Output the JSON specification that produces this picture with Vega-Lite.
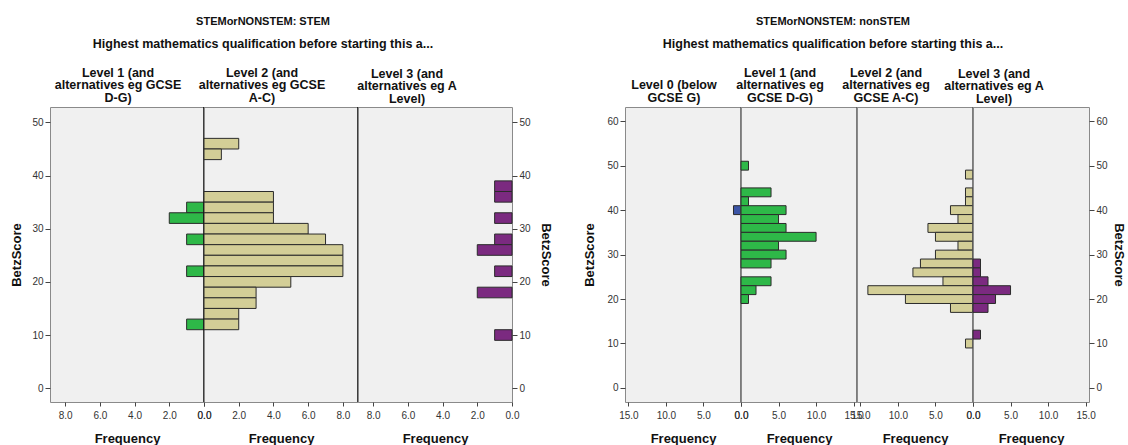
{
  "$schema": "https://vega.github.io/schema/vega-lite/v6.json",
  "background": "white",
  "padding": {"left": 10, "top": 15, "right": 0, "bottom": 0},
  "spacing": 31,
  "datasets": {
    "s1": [
      {"lo": 33, "hi": 35, "n": 1}, {"lo": 31, "hi": 33, "n": 2}, {"lo": 27, "hi": 29, "n": 1},
      {"lo": 21, "hi": 23, "n": 1}, {"lo": 11, "hi": 13, "n": 1}
    ],
    "s2": [
      {"lo": 45, "hi": 47, "n": 2}, {"lo": 43, "hi": 45, "n": 1}, {"lo": 35, "hi": 37, "n": 4},
      {"lo": 33, "hi": 35, "n": 4}, {"lo": 31, "hi": 33, "n": 4}, {"lo": 29, "hi": 31, "n": 6},
      {"lo": 27, "hi": 29, "n": 7}, {"lo": 25, "hi": 27, "n": 8}, {"lo": 23, "hi": 25, "n": 8},
      {"lo": 21, "hi": 23, "n": 8}, {"lo": 19, "hi": 21, "n": 5}, {"lo": 17, "hi": 19, "n": 3},
      {"lo": 15, "hi": 17, "n": 3}, {"lo": 13, "hi": 15, "n": 2}, {"lo": 11, "hi": 13, "n": 2}
    ],
    "s3": [
      {"lo": 37, "hi": 39, "n": 1}, {"lo": 35, "hi": 37, "n": 1}, {"lo": 31, "hi": 33, "n": 1},
      {"lo": 27, "hi": 29, "n": 1}, {"lo": 25, "hi": 27, "n": 2}, {"lo": 21, "hi": 23, "n": 1},
      {"lo": 17, "hi": 19, "n": 2}, {"lo": 9, "hi": 11, "n": 1}
    ],
    "n0": [
      {"lo": 39, "hi": 41, "n": 1}
    ],
    "n1": [
      {"lo": 49, "hi": 51, "n": 1}, {"lo": 43, "hi": 45, "n": 4}, {"lo": 41, "hi": 43, "n": 1},
      {"lo": 39, "hi": 41, "n": 6}, {"lo": 37, "hi": 39, "n": 5}, {"lo": 35, "hi": 37, "n": 6},
      {"lo": 33, "hi": 35, "n": 10}, {"lo": 31, "hi": 33, "n": 5}, {"lo": 29, "hi": 31, "n": 6},
      {"lo": 27, "hi": 29, "n": 4}, {"lo": 23, "hi": 25, "n": 4}, {"lo": 21, "hi": 23, "n": 2},
      {"lo": 19, "hi": 21, "n": 1}
    ],
    "n2": [
      {"lo": 47, "hi": 49, "n": 1}, {"lo": 43, "hi": 45, "n": 1}, {"lo": 41, "hi": 43, "n": 1},
      {"lo": 39, "hi": 41, "n": 3}, {"lo": 37, "hi": 39, "n": 2}, {"lo": 35, "hi": 37, "n": 6},
      {"lo": 33, "hi": 35, "n": 5}, {"lo": 31, "hi": 33, "n": 2}, {"lo": 29, "hi": 31, "n": 5},
      {"lo": 27, "hi": 29, "n": 7}, {"lo": 25, "hi": 27, "n": 8}, {"lo": 23, "hi": 25, "n": 4},
      {"lo": 21, "hi": 23, "n": 14}, {"lo": 19, "hi": 21, "n": 9}, {"lo": 17, "hi": 19, "n": 3},
      {"lo": 9, "hi": 11, "n": 1}
    ],
    "n3": [
      {"lo": 27, "hi": 29, "n": 1}, {"lo": 25, "hi": 27, "n": 1}, {"lo": 23, "hi": 25, "n": 2},
      {"lo": 21, "hi": 23, "n": 5}, {"lo": 19, "hi": 21, "n": 3}, {"lo": 17, "hi": 19, "n": 2},
      {"lo": 11, "hi": 13, "n": 1}
    ]
  },
  "hconcat": [
    {
      "title": {
        "text": "STEMorNONSTEM: STEM",
        "subtitle": "Highest mathematics qualification before starting this a...",
        "fontSize": 11, "fontWeight": "bold", "color": "#111", "baseline": "top",
        "subtitleFontSize": 12.5, "subtitleFontWeight": "bold", "subtitleColor": "#111", "subtitleFont": "Liberation Sans",
        "subtitlePadding": 11, "offset": 16, "anchor": "middle", "dx": 213
      },
      "spacing": 0,
      "bounds": "flush",
      "hconcat": [
        {
          "width": 154, "height": 295,
          "title": {"text": ["Level 1 (and", "alternatives eg GCSE", "D-G)"], "dx": -9},
          "layer": [
            {
              "data": {"name": "s1"},
              "mark": {"type": "rect", "fill": "#2eb848", "stroke": "#2b2b2b", "strokeWidth": 1},
              "encoding": {
                "y": {"field": "lo", "type": "quantitative", "scale": {"domain": [-2.6, 52.9], "nice": false, "zero": false},
                      "axis": {"values": [0, 10, 20, 30, 40, 50], "title": "BetzScore", "titlePadding": 8}},
                "y2": {"field": "hi"},
                "x": {"field": "n", "type": "quantitative", "scale": {"domain": [0, 8.87], "nice": false, "reverse": true},
                      "axis": {"values": [0, 2, 4, 6, 8], "format": ".1f", "title": "Frequency", "labelOverlap": false}},
                "x2": {"datum": 0}
              }
            },
            {
              "data": {"values": [{}]},
              "mark": {"type": "rule", "color": "#000", "strokeWidth": 1.5},
              "encoding": {"x": {"datum": 0, "type": "quantitative",
                                 "axis": {"values": [0, 2, 4, 6, 8], "format": ".1f", "title": "Frequency", "labelOverlap": false}}}
            }
          ]
        },
        {
          "width": 154, "height": 295,
          "title": {"text": ["Level 2 (and", "alternatives eg GCSE", "A-C)"], "dx": -19},
          "layer": [
            {
              "data": {"name": "s2"},
              "mark": {"type": "rect", "fill": "#d3ce97", "stroke": "#2b2b2b", "strokeWidth": 1},
              "encoding": {
                "y": {"field": "lo", "type": "quantitative", "scale": {"domain": [-2.6, 52.9], "nice": false, "zero": false}, "axis": null},
                "y2": {"field": "hi"},
                "x": {"field": "n", "type": "quantitative", "scale": {"domain": [0, 8.87], "nice": false},
                      "axis": {"values": [0, 2, 4, 6, 8], "format": ".1f", "title": "Frequency", "labelOverlap": false}},
                "x2": {"datum": 0}
              }
            },
            {
              "data": {"values": [{}]},
              "mark": {"type": "rule", "color": "#000", "strokeWidth": 1.5},
              "encoding": {"x": {"datum": 8.87, "type": "quantitative",
                                 "axis": {"values": [0, 2, 4, 6, 8], "format": ".1f", "title": "Frequency", "labelOverlap": false}}}
            }
          ]
        },
        {
          "width": 154, "height": 295,
          "title": {"text": ["Level 3 (and", "alternatives eg A", "Level)"], "dx": -28},
          "layer": [
            {
              "data": {"name": "s3"},
              "mark": {"type": "rect", "fill": "#7b2a80", "stroke": "#2b2b2b", "strokeWidth": 1},
              "encoding": {
                "y": {"field": "lo", "type": "quantitative", "scale": {"domain": [-2.6, 52.9], "nice": false, "zero": false},
                      "axis": {"orient": "right", "values": [0, 10, 20, 30, 40, 50], "title": "BetzScore", "titlePadding": 8}},
                "y2": {"field": "hi"},
                "x": {"field": "n", "type": "quantitative", "scale": {"domain": [0, 8.87], "nice": false, "reverse": true},
                      "axis": {"values": [0, 2, 4, 6, 8], "format": ".1f", "title": "Frequency", "labelOverlap": false}},
                "x2": {"datum": 0}
              }
            }
          ]
        }
      ]
    },
    {
      "title": {
        "text": "STEMorNONSTEM: nonSTEM",
        "subtitle": "Highest mathematics qualification before starting this a...",
        "fontSize": 11, "fontWeight": "bold", "color": "#111", "baseline": "top",
        "subtitleFontSize": 12.5, "subtitleFontWeight": "bold", "subtitleColor": "#111", "subtitleFont": "Liberation Sans",
        "subtitlePadding": 11, "offset": 16, "anchor": "middle", "dx": 208
      },
      "spacing": 0,
      "bounds": "flush",
      "hconcat": [
        {
          "width": 116, "height": 295,
          "title": {"text": ["Level 0 (below", "GCSE G)"], "dx": -9},
          "layer": [
            {
              "data": {"name": "n0"},
              "mark": {"type": "rect", "fill": "#3b54a5", "stroke": "#2b2b2b", "strokeWidth": 1},
              "encoding": {
                "y": {"field": "lo", "type": "quantitative", "scale": {"domain": [-3.16, 63.2], "nice": false, "zero": false},
                      "axis": {"values": [0, 10, 20, 30, 40, 50, 60], "title": "BetzScore", "titlePadding": 10}},
                "y2": {"field": "hi"},
                "x": {"field": "n", "type": "quantitative", "scale": {"domain": [0, 15.45], "nice": false, "reverse": true},
                      "axis": {"values": [0, 5, 10, 15], "format": ".1f", "title": "Frequency", "labelOverlap": false}},
                "x2": {"datum": 0}
              }
            },
            {
              "data": {"values": [{}]},
              "mark": {"type": "rule", "color": "#555", "strokeWidth": 1.5},
              "encoding": {"x": {"datum": 0, "type": "quantitative",
                                 "axis": {"values": [0, 5, 10, 15], "format": ".1f", "title": "Frequency", "labelOverlap": false}}}
            }
          ]
        },
        {
          "width": 116, "height": 295,
          "title": {"text": ["Level 1 (and", "alternatives eg", "GCSE D-G)"], "dx": -19},
          "layer": [
            {
              "data": {"name": "n1"},
              "mark": {"type": "rect", "fill": "#2eb848", "stroke": "#2b2b2b", "strokeWidth": 1},
              "encoding": {
                "y": {"field": "lo", "type": "quantitative", "scale": {"domain": [-3.16, 63.2], "nice": false, "zero": false}, "axis": null},
                "y2": {"field": "hi"},
                "x": {"field": "n", "type": "quantitative", "scale": {"domain": [0, 15.45], "nice": false},
                      "axis": {"values": [0, 5, 10, 15], "format": ".1f", "title": "Frequency", "labelOverlap": false}},
                "x2": {"datum": 0}
              }
            },
            {
              "data": {"values": [{}]},
              "mark": {"type": "rule", "color": "#555", "strokeWidth": 1.5},
              "encoding": {"x": {"datum": 15.45, "type": "quantitative",
                                 "axis": {"values": [0, 5, 10, 15], "format": ".1f", "title": "Frequency", "labelOverlap": false}}}
            }
          ]
        },
        {
          "width": 116, "height": 295,
          "title": {"text": ["Level 2 (and", "alternatives eg", "GCSE A-C)"], "dx": -29},
          "layer": [
            {
              "data": {"name": "n2"},
              "mark": {"type": "rect", "fill": "#d3ce97", "stroke": "#2b2b2b", "strokeWidth": 1},
              "encoding": {
                "y": {"field": "lo", "type": "quantitative", "scale": {"domain": [-3.16, 63.2], "nice": false, "zero": false}, "axis": null},
                "y2": {"field": "hi"},
                "x": {"field": "n", "type": "quantitative", "scale": {"domain": [0, 15.45], "nice": false, "reverse": true},
                      "axis": {"values": [0, 5, 10, 15], "format": ".1f", "title": "Frequency", "labelOverlap": false}},
                "x2": {"datum": 0}
              }
            },
            {
              "data": {"values": [{}]},
              "mark": {"type": "rule", "color": "#555", "strokeWidth": 1.5},
              "encoding": {"x": {"datum": 0, "type": "quantitative",
                                 "axis": {"values": [0, 5, 10, 15], "format": ".1f", "title": "Frequency", "labelOverlap": false}}}
            }
          ]
        },
        {
          "width": 116, "height": 295,
          "title": {"text": ["Level 3 (and", "alternatives eg A", "Level)"], "dx": -37},
          "layer": [
            {
              "data": {"name": "n3"},
              "mark": {"type": "rect", "fill": "#7b2a80", "stroke": "#2b2b2b", "strokeWidth": 1},
              "encoding": {
                "y": {"field": "lo", "type": "quantitative", "scale": {"domain": [-3.16, 63.2], "nice": false, "zero": false},
                      "axis": {"orient": "right", "values": [0, 10, 20, 30, 40, 50, 60], "title": "BetzScore", "titlePadding": 4}},
                "y2": {"field": "hi"},
                "x": {"field": "n", "type": "quantitative", "scale": {"domain": [0, 15.45], "nice": false},
                      "axis": {"values": [0, 5, 10, 15], "format": ".1f", "title": "Frequency", "labelOverlap": false}},
                "x2": {"datum": 0}
              }
            }
          ]
        }
      ]
    }
  ],
  "config": {
    "font": "Liberation Sans",
    "view": {"fill": "#f0f0f0", "stroke": "#8a8a8a", "strokeWidth": 1},
    "axis": {
      "labelFont": "Liberation Sans", "labelFontSize": 10, "labelColor": "#333",
      "tickColor": "#444", "domain": false, "grid": false,
      "titleFont": "Liberation Sans", "titleFontSize": 13, "titleFontWeight": "bold", "titleColor": "#111"
    },
    "axisX": {"tickSize": 4, "labelPadding": 4, "titlePadding": 12, "labelOverlap": false, "labelFlush": false},
    "axisY": {"tickSize": 5, "labelPadding": 2},
    "title": {
      "font": "Liberation Sans", "fontSize": 12.5, "fontWeight": "bold", "color": "#111",
      "lineHeight": 12.5, "baseline": "bottom", "offset": 2, "anchor": "middle", "frame": "group"
    }
  }
}
